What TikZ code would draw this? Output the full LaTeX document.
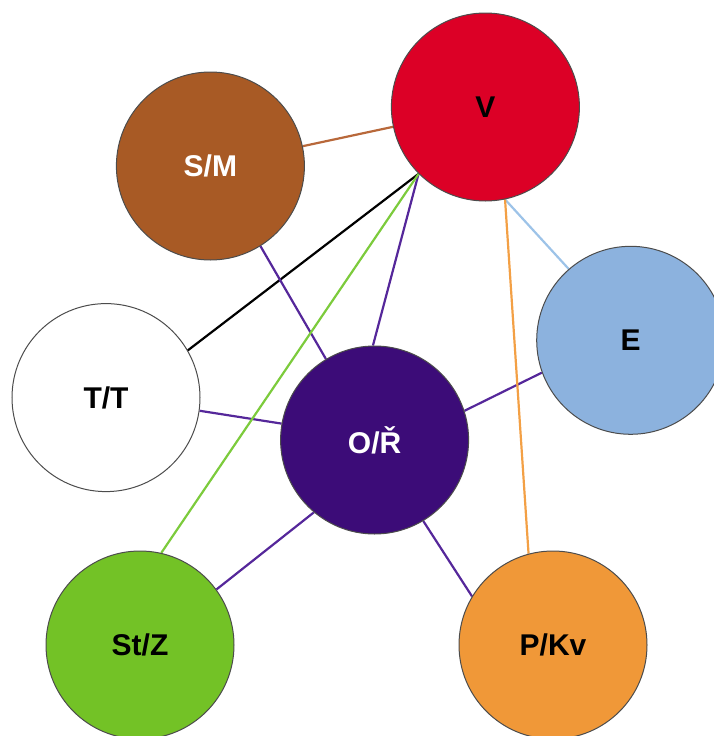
\documentclass[tikz,border=0pt]{standalone}
\usepackage{fontspec}
\setmainfont{Liberation Sans}
\usetikzlibrary{backgrounds}
\definecolor{cV}{HTML}{DC0026}
\definecolor{cSM}{HTML}{A85A25}
\definecolor{cE}{HTML}{8CB2DE}
\definecolor{cO}{HTML}{3C0C78}
\definecolor{cSt}{HTML}{73C226}
\definecolor{cP}{HTML}{F09838}
\definecolor{lPurple}{HTML}{55279A}
\definecolor{lBrown}{HTML}{B8683A}
\definecolor{lGreen}{HTML}{7CCB3C}
\definecolor{lOrange}{HTML}{F3A045}
\definecolor{lBlue}{HTML}{9DC3E8}
\begin{document}
\begin{tikzpicture}[x=1pt,y=-1pt,
  ball/.style={circle, draw=black!70, line width=1pt, minimum size=188pt, inner sep=0pt,
    font=\fontsize{30}{36}\selectfont\bfseries},
  link/.style={line width=2.2pt}]
\useasboundingbox (0,0) rectangle (714,736);
\node[ball, fill=cV] (V) at (485.4,107) {V};
\node[ball, fill=cSM, text=white] (SM) at (210.4,166) {S/M};
\node[ball, fill=cE] (E) at (630.7,340.3) {E};
\node[ball, fill=white] (TT) at (106,397.6) {T/T};
\node[ball, fill=cO, text=white] (O) at (374.6,440) {O/Ř};
\node[ball, fill=cSt] (St) at (140,645) {St/Z};
\node[ball, fill=cP] (P) at (553,645) {P/Kv};
\begin{scope}[on background layer]
\draw[link, lBrown] (SM) -- (V);
\draw[link, black] (V.225) -- (TT.30);
\draw[link, lPurple] (SM.-58) -- (O.121);
\draw[link, lPurple] (V.225) -- (O.91);
\draw[link, lPurple] (TT.-8) -- (O.170);
\draw[link, lPurple] (O.18) -- (E.200);
\draw[link, lPurple] (O.-130) -- (St.36);
\draw[link, lPurple] (O.-59) -- (P.149);
\draw[link, lGreen] (V.225) -- (St.77);
\draw[link, lBlue] (V.-78) -- (E.131);
\draw[link, lOrange] (V.-78) -- (P.105);
\end{scope}
\end{tikzpicture}
\end{document}
